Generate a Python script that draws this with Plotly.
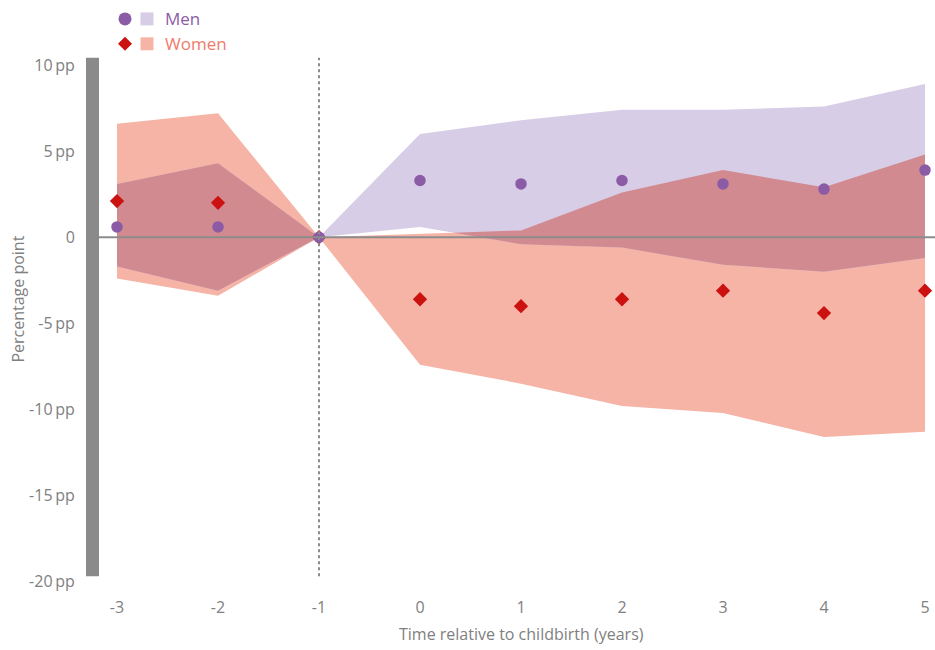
import plotly.graph_objects as go

W, H = 935, 650

# ---------------- data ----------------
years = [-3, -2, -1, 0, 1, 2, 3, 4, 5]
men = [0.6, 0.6, 0.0, 3.3, 3.1, 3.3, 3.1, 2.8, 3.9]
women = [2.1, 2.0, 0.0, -3.6, -4.0, -3.6, -3.1, -4.4, -3.1]
men_lo = [-1.7, -3.1, 0.0, 0.6, -0.4, -0.6, -1.6, -2.0, -1.2]
men_hi = [3.1, 4.3, 0.0, 6.0, 6.8, 7.4, 7.4, 7.6, 8.9]
women_lo = [-2.4, -3.4, 0.0, -7.4, -8.5, -9.8, -10.2, -11.6, -11.3]
women_hi = [6.6, 7.2, 0.0, 0.2, 0.4, 2.6, 3.9, 2.9, 4.8]
y_tickvals = [-20, -15, -10, -5, 0, 5, 10]
y_ticktext = ["-20\u2009pp", "-15\u2009pp", "-10\u2009pp", "-5\u2009pp", "0", "5\u2009pp", "10\u2009pp"]
x_tickvals = years
x_ticktext = ["-3", "-2", "-1", "0", "1", "2", "3", "4", "5"]

# ---------------- styles ----------------
MEN_BAND = "#d8cde6"
WOMEN_BAND = "#f5b4a6"
OVERLAP = "#d28a91"
MEN_DOT = "#8b5ca5"
WOMEN_DOT = "#cc1111"
WOMEN_TEXT = "#f07a6a"
GREY = "#808080"
FONT = "Open Sans"


def overlap(xs, aL, aU, bL, bU):
    ox, olo, ohi = [], [], []
    for i in range(len(xs) - 1):
        ts = {0.0, 1.0}
        for p, q in [(aL, bL), (aU, bU), (aL, bU), (aU, bL)]:
            d0 = p[i] - q[i]
            d1 = p[i + 1] - q[i + 1]
            if d0 * d1 < 0:
                ts.add(d0 / (d0 - d1))
        for t in sorted(ts):
            if i > 0 and t == 0.0:
                continue
            f = lambda arr: arr[i] + t * (arr[i + 1] - arr[i])
            lo = max(f(aL), f(bL))
            hi = max(min(f(aU), f(bU)), lo)
            ox.append(xs[i] + t * (xs[i + 1] - xs[i]))
            olo.append(lo)
            ohi.append(hi)
    return ox, olo, ohi


ov_x, ov_lo, ov_hi = overlap(years, men_lo, men_hi, women_lo, women_hi)

fig = go.Figure()


def band(xs, lo, hi, color):
    fig.add_trace(go.Scatter(x=xs, y=lo, mode="lines", line=dict(width=0, color=color),
                             showlegend=False, hoverinfo="skip"))
    fig.add_trace(go.Scatter(x=xs, y=hi, mode="lines", line=dict(width=0, color=color),
                             fill="tonexty", fillcolor=color, showlegend=False, hoverinfo="skip"))


band(years, women_lo, women_hi, WOMEN_BAND)
band(years, men_lo, men_hi, MEN_BAND)
band(ov_x, ov_lo, ov_hi, OVERLAP)

fig.add_trace(go.Scatter(x=years, y=women, mode="markers", name="Women",
                         marker=dict(symbol="diamond", size=11, color=WOMEN_DOT),
                         showlegend=False))
fig.add_trace(go.Scatter(x=years, y=men, mode="markers", name="Men",
                         marker=dict(symbol="circle", size=11.5, color=MEN_DOT),
                         showlegend=False))

# plot area in screen pixels
PL, PR, PT, PB = 99, 935, 54, 592


def px(x):
    return x / W


def py(y):
    return 1 - y / H


shapes = []
shapes.append(dict(type="rect", xref="paper", yref="paper", x0=px(86), x1=px(99),
                   y0=py(578), y1=py(57), fillcolor="#8a8a8a", line=dict(width=0), layer="above"))
shapes.append(dict(type="line", xref="x", yref="paper", x0=-1, x1=-1, y0=py(578), y1=py(57),
                   line=dict(color="#8a8a8a", width=2, dash="dot"), layer="above"))
shapes.append(dict(type="line", xref="paper", yref="y", x0=px(99), x1=1, y0=0, y1=0,
                   line=dict(color="#8c8c8c", width=2), layer="above"))


def circ(cx, cy, r, color):
    return dict(type="circle", xref="paper", yref="paper", x0=px(cx - r), x1=px(cx + r),
                y0=py(cy + r), y1=py(cy - r), fillcolor=color, line=dict(width=0))


def sq(cx, cy, r, color):
    return dict(type="rect", xref="paper", yref="paper", x0=px(cx - r), x1=px(cx + r),
                y0=py(cy + r), y1=py(cy - r), fillcolor=color, line=dict(width=0))


def diamond(cx, cy, r, color):
    path = "M {a},{b} L {c},{d} L {e},{f} L {g},{h} Z".format(
        a=px(cx), b=py(cy - r), c=px(cx + r), d=py(cy), e=px(cx), f=py(cy + r), g=px(cx - r), h=py(cy))
    return dict(type="path", xref="paper", yref="paper", path=path, fillcolor=color, line=dict(width=0))


shapes.append(circ(125, 18, 6.5, MEN_DOT))
shapes.append(sq(147, 18, 6.5, MEN_BAND))
shapes.append(diamond(125, 43, 7, WOMEN_DOT))
shapes.append(sq(147, 43, 6.5, WOMEN_BAND))

annotations = [
    dict(text="Men", xref="paper", yref="paper", x=px(163), y=py(18), xanchor="left", yanchor="middle",
         showarrow=False, font=dict(family=FONT, size=17, color=MEN_DOT)),
    dict(text="Women", xref="paper", yref="paper", x=px(163), y=py(43), xanchor="left", yanchor="middle",
         showarrow=False, font=dict(family=FONT, size=17, color=WOMEN_TEXT)),
    dict(text="Percentage point", xref="paper", yref="paper", x=px(18), y=py(300), textangle=-90,
         xanchor="center", yanchor="middle", showarrow=False, font=dict(family=FONT, size=16, color=GREY)),
    dict(text="Time relative to childbirth (years)", xref="x", yref="paper", x=1, y=py(636),
         xanchor="center", yanchor="middle", showarrow=False, font=dict(family=FONT, size=16, color=GREY)),
]

fig.update_layout(
    width=W, height=H,
    margin=dict(l=0, r=0, t=0, b=0),
    paper_bgcolor="white", plot_bgcolor="white",
    showlegend=False,
    shapes=shapes, annotations=annotations,
    font=dict(family=FONT, color=GREY),
    xaxis=dict(domain=[px(PL), 1], range=[-3 - 18 / 101, 5 + 10 / 101],
               tickvals=x_tickvals, ticktext=x_ticktext, ticks="outside", ticklen=3,
               tickcolor="rgba(0,0,0,0)",
               showgrid=False, zeroline=False, showline=False,
               tickfont=dict(family=FONT, size=16, color=GREY)),
    yaxis=dict(domain=[py(PB), py(PT)], range=[-20.5, 10.6],
               tickvals=y_tickvals, ticktext=y_ticktext, ticks="outside", ticklen=20,
               tickcolor="rgba(0,0,0,0)", showgrid=False, zeroline=False, showline=False,
               tickfont=dict(family=FONT, size=16, color=GREY)),
)

fig.write_html("out.html", config={"displayModeBar": False},
               post_script="document.body.style.margin='0';document.body.style.overflow='hidden';")
